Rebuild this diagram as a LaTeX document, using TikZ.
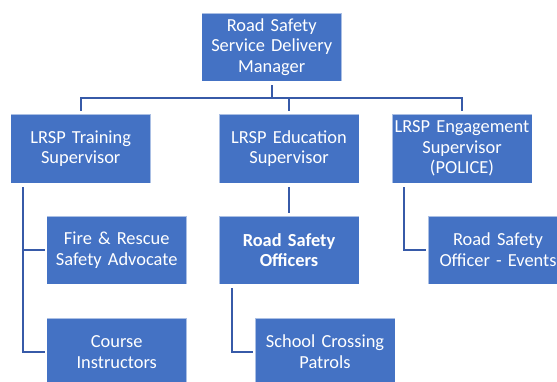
\documentclass[tikz,border=0pt]{standalone}
\usepackage{fontspec}
\setmainfont{Carlito}
\definecolor{boxblue}{RGB}{68,114,196}
\definecolor{linkblue}{RGB}{55,90,168}
\begin{document}
\begin{tikzpicture}[x=1pt,y=1pt,
  role/.style={draw=white, draw opacity=0.55, line width=0.9pt, fill=boxblue,
    text=white, anchor=north west, inner sep=0pt, outer sep=0pt,
    minimum width=140pt, text width=136pt, align=center, minimum height=68pt,
    font=\fontsize{18.4}{20.7}\selectfont},
  link/.style={draw=linkblue, line width=2.4pt}]
\useasboundingbox (0,0) rectangle (557,-381);
\clip (0,0) rectangle (557,-381);

% management
\node[role] (top) at (201.7,-13) {Road Safety\\Service Delivery\\Manager};

% supervisors
\node[role, minimum height=69pt] (train) at (10.7,-114) {LRSP Training\\Supervisor};
\node[role, minimum height=69pt] (edu) at (219,-114) {LRSP Education\\Supervisor};
\node[role, minimum height=69pt] (eng) at (392,-114) {LRSP Engagement\\Supervisor\\(POLICE)};

% staff
\node[role] (fire) at (46.7,-216) {Fire \& Rescue\\Safety Advocate};
\node[role] (rso) at (219,-216) {\bfseries Road Safety\\\bfseries Officers};
\node[role] (events) at (428,-216) {Road Safety\\Officer - Events};
\node[role] (course) at (46.7,-318) {Course\\Instructors};
\node[role] (patrol) at (255,-318) {School Crossing\\Patrols};

% top-level connector bar
\coordinate (bar) at (0,-98);
\draw[link, shorten <=4pt] (top.south) -- (top.south |- bar);
\draw[link, shorten <=3pt, shorten >=3pt] (train.north) |- (edu.north |- bar) -| (eng.north);
\draw[link, shorten >=3pt] (edu.north |- bar) -- (edu.north);

% training branch
\coordinate (tl) at ([xshift=12.5pt]train.south west);
\draw[link, shorten <=4pt, shorten >=2pt] (tl) |- (course.west);
\draw[link, shorten >=2pt] (tl |- fire.west) -- (fire.west);

% education branch
\draw[link, shorten <=4pt, shorten >=3pt] (edu.south) -- (rso.north);
\coordinate (ml) at ([xshift=13pt]rso.south west);
\draw[link, shorten <=4pt, shorten >=2pt] (ml) |- (patrol.west);

% engagement branch
\coordinate (rl) at ([xshift=12pt]eng.south west);
\draw[link, shorten <=4pt, shorten >=2pt] (rl) |- (events.west);
\end{tikzpicture}
\end{document}
